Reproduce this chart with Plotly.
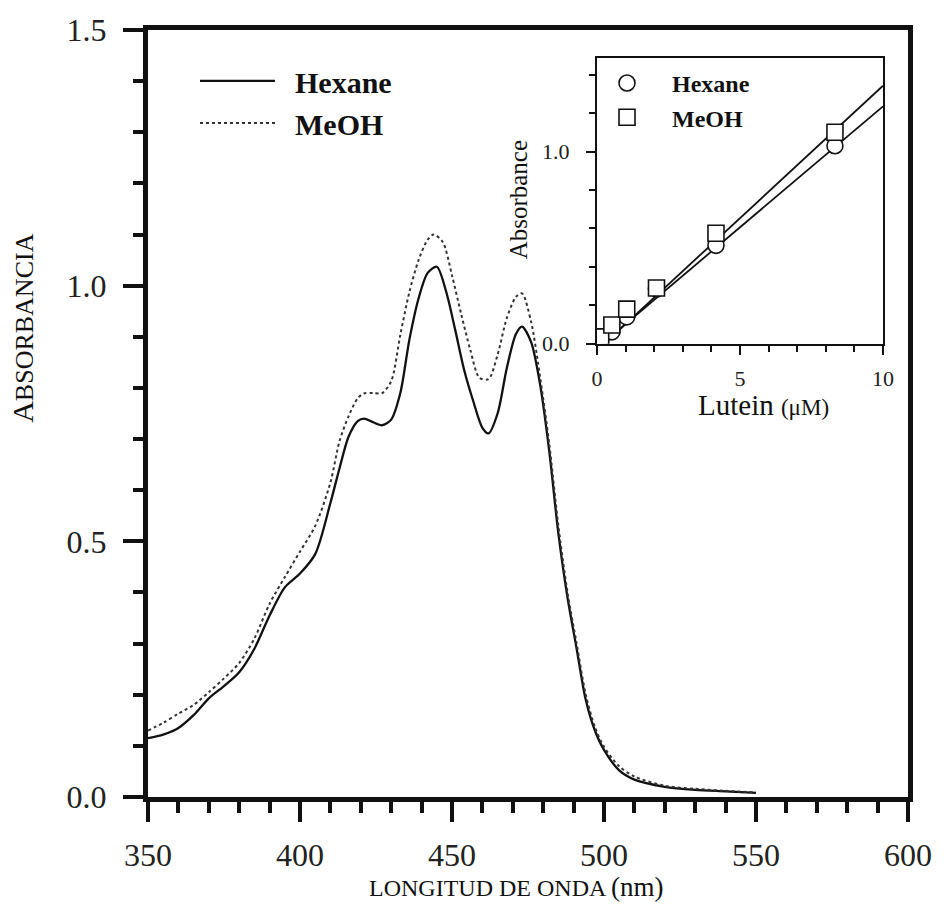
import plotly.graph_objects as go

# ---- main spectra (wavelength nm, absorbance) ----
wl_hex = [350, 355, 360, 365, 370, 375, 380, 385, 390, 395, 400, 405, 410, 413, 416,
          419, 421, 424, 427, 430, 433, 436, 439, 442, 445, 448, 451, 454, 457, 460,
          462, 465, 468, 471, 473, 476, 479, 482, 485, 488, 491, 494, 497, 500, 505,
          510, 520, 530, 540, 550]
abs_hex = [0.115, 0.122, 0.135, 0.160, 0.193, 0.217, 0.244, 0.290, 0.355, 0.410, 0.437,
           0.475, 0.575, 0.643, 0.705, 0.735, 0.740, 0.733, 0.727, 0.738, 0.790, 0.895,
           0.975, 1.025, 1.037, 0.990, 0.915, 0.835, 0.774, 0.722, 0.711, 0.750, 0.838,
           0.905, 0.920, 0.890, 0.806, 0.676, 0.515, 0.390, 0.290, 0.190, 0.130, 0.092,
           0.052, 0.034, 0.020, 0.014, 0.011, 0.008]

wl_meoh = [350, 355, 360, 365, 370, 375, 380, 385, 390, 395, 400, 405, 410, 413, 416,
           419, 421, 424, 427, 430, 433, 436, 439, 442, 444, 447, 450, 453, 456, 459,
           462, 465, 468, 471, 473, 476, 479, 482, 485, 488, 491, 494, 497, 500, 505,
           510, 520, 530, 540, 550]
abs_meoh = [0.130, 0.145, 0.163, 0.180, 0.205, 0.232, 0.262, 0.310, 0.378, 0.430, 0.480,
            0.530, 0.615, 0.696, 0.745, 0.780, 0.789, 0.790, 0.790, 0.813, 0.904, 0.988,
            1.050, 1.090, 1.100, 1.085, 1.020, 0.945, 0.875, 0.820, 0.817, 0.865, 0.936,
            0.978, 0.985, 0.930, 0.820, 0.690, 0.530, 0.400, 0.300, 0.200, 0.137, 0.098,
            0.060, 0.040, 0.022, 0.016, 0.012, 0.009]

# ---- inset: calibration ----
conc = [0.13, 0.52, 1.04, 2.08, 4.16, 8.32]
cal_hex = [0.025, 0.062, 0.14, 0.285, 0.512, 1.03]
cal_meoh = [0.036, 0.098, 0.18, 0.29, 0.575, 1.10]
fit_x = [0.13, 10.0]
fit_hex = [-0.007, 1.235]
fit_meoh = [-0.017, 1.342]

main_xticks = [350, 400, 450, 500, 550, 600]
main_yticks = [0.0, 0.5, 1.0, 1.5]
main_ylabels = ["0.0", "0.5", "1.0", "1.5"]
inset_xticks = [0, 5, 10]
inset_yticks = [0.0, 1.0]
inset_ylabels = ["0.0", "1.0"]

FONT = "Liberation Serif"
SP = "\u00a0\u00a0"

fig = go.Figure()
fig.add_trace(go.Scatter(x=wl_hex, y=abs_hex, mode="lines", name="<b>" + SP + "Hexane</b>",
                         line=dict(color="#111", width=2.3, shape="spline", smoothing=0.8),
                         legend="legend"))
fig.add_trace(go.Scatter(x=wl_meoh, y=abs_meoh, mode="lines", name="<b>" + SP + "MeOH</b>",
                         line=dict(color="#333", width=2, dash="dot", shape="spline", smoothing=0.8),
                         legend="legend"))

# inset fit lines
fig.add_trace(go.Scatter(x=fit_x, y=fit_hex, mode="lines", xaxis="x2", yaxis="y2",
                         line=dict(color="#111", width=1.8), showlegend=False))
fig.add_trace(go.Scatter(x=fit_x, y=fit_meoh, mode="lines", xaxis="x2", yaxis="y2",
                         line=dict(color="#111", width=1.8), showlegend=False))
fig.add_trace(go.Scatter(x=conc, y=cal_hex, mode="markers", name="<b>Hexane</b>",
                         xaxis="x2", yaxis="y2", legend="legend2",
                         marker=dict(symbol="circle", size=16, color="white",
                                     line=dict(color="#111", width=1.6))))
fig.add_trace(go.Scatter(x=conc, y=cal_meoh, mode="markers", name="<b>MeOH</b>",
                         xaxis="x2", yaxis="y2", legend="legend2",
                         marker=dict(symbol="square", size=16, color="white",
                                     line=dict(color="#111", width=1.6))))

L, R, T, B = 148, 36, 27, 110
W, H = 944, 907
pw, ph = W - L - R, H - T - B

def px_x(p):
    return (p - L) / pw

def px_y(p):
    return (H - B - p) / ph

def note(text, x, y, size, angle=0):
    return dict(text=text, textangle=angle, xref="paper", yref="paper",
                x=px_x(x), y=px_y(y), xanchor="center", yanchor="middle",
                showarrow=False, font=dict(size=size, family=FONT, color="#111"))

fig.update_layout(
    width=W, height=H,
    margin=dict(l=L, r=R, t=T, b=B),
    paper_bgcolor="white", plot_bgcolor="white",
    font=dict(family=FONT, color="#111"),
    xaxis=dict(range=[350, 600], tickvals=main_xticks, showgrid=False, zeroline=False,
               showline=True, linecolor="#111", linewidth=5, mirror=True,
               ticks="outside", ticklen=20, tickwidth=4, tickcolor="#111",
               ticklabelstandoff=6,
               tickfont=dict(size=32, family=FONT, color="#222"),
               minor=dict(dtick=10, ticks="outside", ticklen=11, tickwidth=4, tickcolor="#111", showgrid=False)),
    yaxis=dict(range=[0, 1.5], tickvals=main_yticks, ticktext=main_ylabels, showgrid=False,
               zeroline=False, showline=True, linecolor="#111", linewidth=5, mirror=True,
               ticks="outside", ticklen=20, tickwidth=4, tickcolor="#111",
               ticklabelstandoff=10,
               tickfont=dict(size=32, family=FONT, color="#222"),
               minor=dict(dtick=0.1, ticks="outside", ticklen=10, tickwidth=4, tickcolor="#111", showgrid=False)),
    xaxis2=dict(domain=[px_x(597), px_x(883)], anchor="y2", range=[0, 10], tickvals=inset_xticks,
                showgrid=False, zeroline=False, showline=True, linecolor="#111", linewidth=2,
                mirror=True, ticks="outside", ticklen=9, tickwidth=2, tickcolor="#111",
                ticklabelstandoff=5,
                tickfont=dict(size=22, family=FONT, color="#222"),
                minor=dict(dtick=1, ticks="outside", ticklen=6, tickwidth=2, tickcolor="#111", showgrid=False)),
    yaxis2=dict(domain=[px_y(342), px_y(55)], anchor="x2", range=[0, 1.487], tickvals=inset_yticks,
                ticktext=inset_ylabels, showgrid=False, zeroline=False, showline=True,
                linecolor="#111", linewidth=2, mirror=True, ticks="outside", ticklen=9,
                tickwidth=2, tickcolor="#111", ticklabelstandoff=12,
                tickfont=dict(size=22, family=FONT, color="#222"),
                minor=dict(dtick=0.2, ticks="outside", ticklen=6, tickwidth=2, tickcolor="#111", showgrid=False)),
    legend=dict(x=px_x(195), y=px_y(52), xanchor="left", yanchor="top",
                bgcolor="rgba(0,0,0,0)", font=dict(size=30, family=FONT, color="#111"),
                itemwidth=75, tracegroupgap=0),
    legend2=dict(x=px_x(582), y=px_y(58), xanchor="left", yanchor="top",
                 bgcolor="rgba(0,0,0,0)", font=dict(size=24, family=FONT, color="#111"),
                 itemwidth=80, tracegroupgap=0),
    annotations=[
        note("<span style='font-size:30px'>A</span>BSORBANCIA", 23, 326, 26, -90),
        note("LONGITUD DE ONDA <span style='font-size:27px'>(nm)</span>", 516, 887, 24),
        note("Absorbance", 518, 198, 25, -90),
        note("Lutein <span style='font-size:23px'>(\u03bcM)</span>", 763, 403, 29),
    ],
)

fig.write_html("out.html")
